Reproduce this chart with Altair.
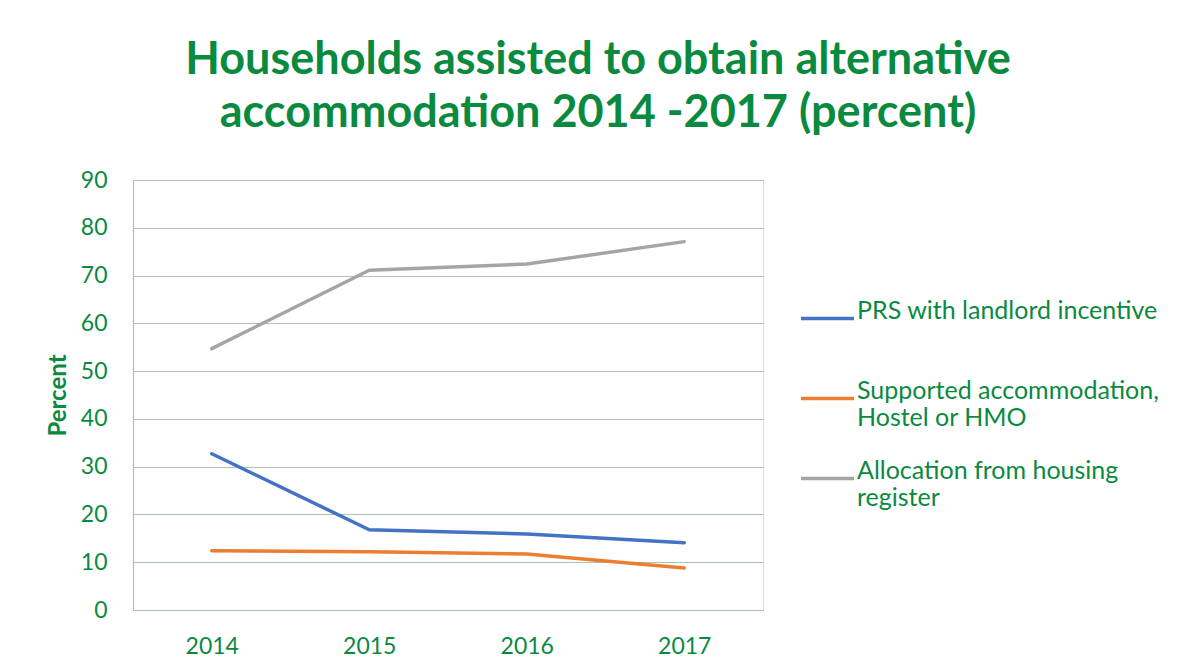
import altair as alt
import pandas as pd

years = ["2014", "2015", "2016", "2017"]
series_names = [
    "PRS with landlord incentive",
    "Supported accommodation, Hostel or HMO",
    "Allocation from housing register",
]
prs = [32.7, 16.8, 15.9, 14.1]
supported = [12.4, 12.2, 11.7, 8.8]
allocation = [54.7, 71.1, 72.4, 77.1]
series_colors = ["#4472C4", "#ED7D31", "#A5A5A5"]
y_ticks = [0, 10, 20, 30, 40, 50, 60, 70, 80, 90]
title_lines = ["Households assisted to obtain alternative", "accommodation 2014 -2017 (percent)"]

rows = []
for name, vals in zip(series_names, [prs, supported, allocation]):
    for yr, v in zip(years, vals):
        rows.append({"Year": yr, "Series": name, "Percent": v})
df = pd.DataFrame(rows)

GREEN = "#0A8A3F"
GRID = "#A9C5AB"
FONT = "Lato"

label_expr = (
    "datum.label == 'Supported accommodation, Hostel or HMO' ? ['Supported accommodation,', 'Hostel or HMO'] : "
    "datum.label == 'Allocation from housing register' ? ['Allocation from housing', 'register'] : datum.label"
)

chart = (
    alt.Chart(df)
    .mark_line(strokeWidth=3.5, strokeCap="round", strokeJoin="round")
    .encode(
        x=alt.X(
            "Year:O",
            sort=years,
            scale=alt.Scale(type="point", padding=0.5),
            axis=alt.Axis(
                title=None,
                labelAngle=0,
                labelFont=FONT,
                labelFontSize=23,
                labelColor=GREEN,
                labelPadding=25,
                ticks=False,
                tickSize=0,
                domain=True,
                domainColor=GRID,
                domainWidth=1.2,
                grid=False,
            ),
        ),
        y=alt.Y(
            "Percent:Q",
            scale=alt.Scale(domain=[0, 90], nice=False),
            axis=alt.Axis(
                values=y_ticks,
                title="Percent",
                titleFont=FONT,
                titleFontSize=24,
                titleFontWeight="bold",
                titleColor=GREEN,
                titleAngle=270,
                titleX=-68,
                titleY=215,
                titleAlign="center",
                titleBaseline="alphabetic",
                labelFont=FONT,
                labelFontSize=23,
                labelColor=GREEN,
                labelPadding=26,
                ticks=False,
                tickSize=0,
                domain=True,
                domainColor=GRID,
                domainWidth=1.2,
                grid=True,
                gridColor=GRID,
                gridWidth=1.2,
            ),
        ),
        color=alt.Color(
            "Series:N",
            sort=series_names,
            scale=alt.Scale(domain=series_names, range=series_colors),
            legend=alt.Legend(
                title=None,
                orient="none",
                legendX=666,
                legendY=110,
                direction="vertical",
                symbolType="stroke",
                symbolSize=2809,
                symbolStrokeWidth=3.5,
                labelFont=FONT,
                labelFontSize=25,
                labelColor=GREEN,
                labelLimit=600,
                labelOffset=1,
                labelBaseline="alphabetic",
                labelExpr=label_expr,
                rowPadding=19,
                gridAlign="all",
                padding=0,
            ),
        ),
    )
    .properties(
        width=630,
        height=430,
        title=alt.Title(
            title_lines,
            font=FONT,
            fontSize=45,
            fontWeight="bold",
            color=GREEN,
            anchor="middle",
            frame="group",
            dx=150,
            dy=-29,
            lineHeight=53,
        ),
        autosize=alt.AutoSizeParams(type="none"),
        padding={"left": 125, "top": 172, "right": 410, "bottom": 53},
    )
    .configure_view(stroke=None)
    .configure(background="white")
)

chart.save("out.html", embed_options={"renderer": "svg", "actions": False})
